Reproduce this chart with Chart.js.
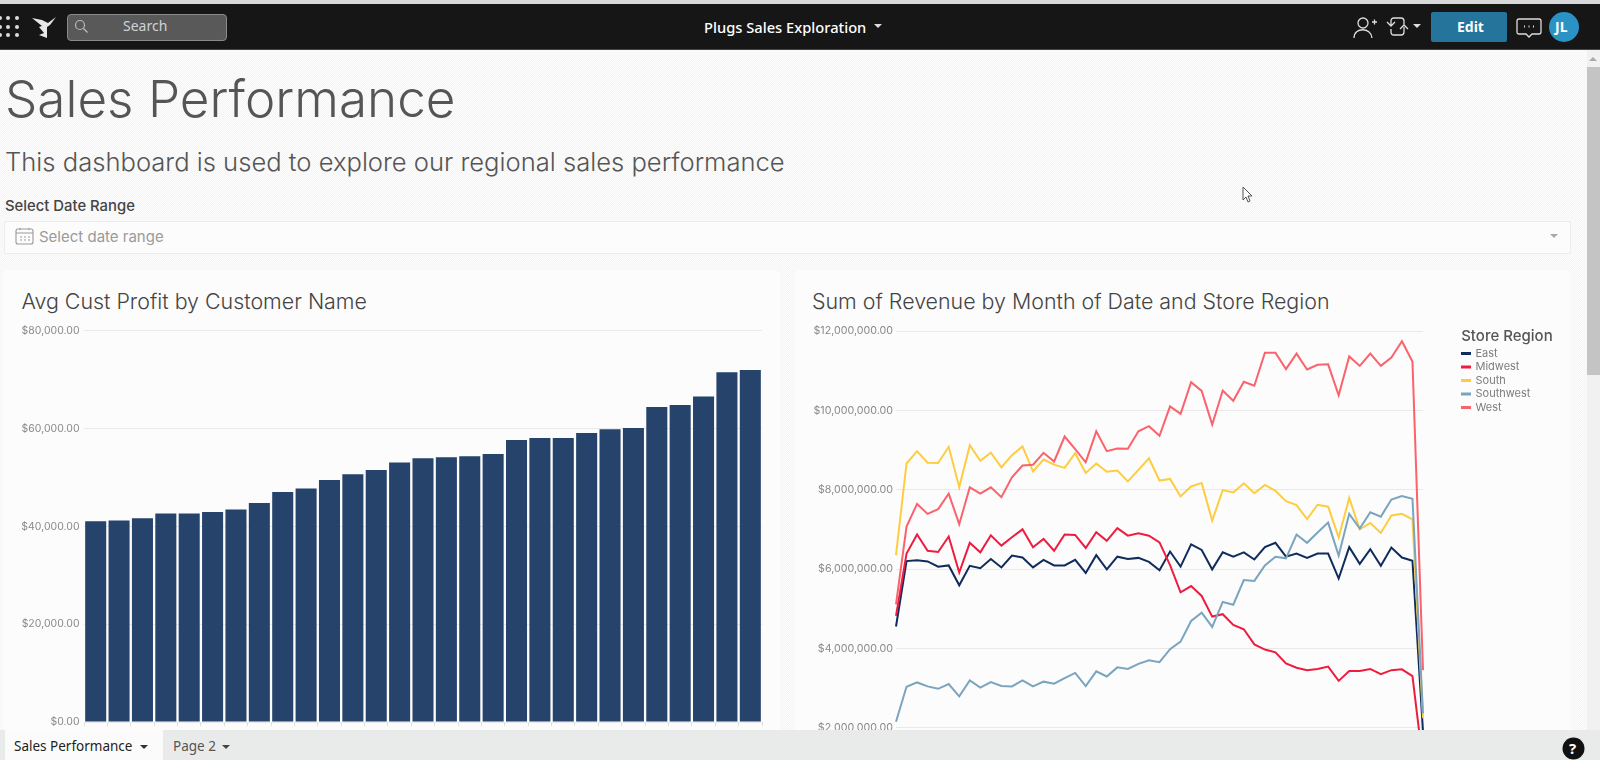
<!DOCTYPE html>
<html lang="en"><head><meta charset="utf-8"><title>Sales Performance</title>
<script src="https://cdn.jsdelivr.net/npm/chart.js@4/dist/chart.umd.min.js"></script>
<style>
html,body{margin:0;padding:0;width:1600px;height:760px;overflow:hidden;font-family:Inter,sans-serif}
body{background:repeating-conic-gradient(#f5f5f5 0 25%,#fcfcfc 0 50%) 0 0/2px 2px}
.abs,canvas{position:absolute}
.t{position:absolute;white-space:nowrap;line-height:1}
#top{position:absolute;left:0;top:0;width:1600px;height:4px;background:#d8d8d8}
#nav{position:absolute;left:0;top:4px;width:1600px;height:45px;background:#161616}
#navline{position:absolute;left:0;top:49px;width:1600px;height:1px;background:#444}
.noto{font-family:"Noto Sans",sans-serif}
#search{position:absolute;left:67px;top:14px;width:158px;height:25px;background:#595959;border:1px solid #8a8a8a;border-radius:4px}
#edit{position:absolute;left:1431px;top:12px;width:76px;height:30px;background:#24749b;border-radius:2px}
#avatar{position:absolute;left:1549px;top:12px;width:30px;height:30px;border-radius:50%;background:#2a92c4}
.card{position:absolute;background:#fcfcfc;border-radius:3px;box-shadow:0 0 1px #eee}
#filter{position:absolute;left:4px;top:221px;width:1565px;height:31px;background:#fcfcfc;border:1px solid #ececec;border-radius:2px}
#tabbar{position:absolute;left:0;top:730px;width:1600px;height:30px;background:#e9ebeb;z-index:5}
#tab1{position:absolute;left:5px;top:730px;width:158px;height:30px;background:#fbfbfb;z-index:6}
#sb{position:absolute;left:1587px;top:50px;width:13px;height:680px;background:#f1f1f1;z-index:4}
#thumb{position:absolute;left:1587px;top:67px;width:13px;height:308px;background:#c4c4c4;z-index:4}
svg{position:absolute}
</style></head><body>
<div id="top"></div><div id="nav"></div><div id="navline"></div>
<svg style="left:0;top:12px;z-index:2" width="24" height="28" fill="#ddd"><circle cx="0" cy="6" r="2"/><circle cx="8" cy="6" r="2"/><circle cx="17" cy="6" r="2"/><circle cx="0" cy="15" r="2"/><circle cx="8" cy="15" r="2"/><circle cx="17" cy="15" r="2"/><circle cx="0" cy="23" r="2"/><circle cx="8" cy="23" r="2"/><circle cx="17" cy="23" r="2"/></svg>
<svg style="left:31px;top:15px;z-index:2" width="26" height="23" fill="#e8e8e8"><path d="M1 3l10 2 6 3 8-6-6 8-3 2 0 11-8-3 5-2-5-6 3-1z"/></svg>
<div id="search"></div>
<svg style="left:73px;top:18px;z-index:2" width="16" height="17" fill="none" stroke="#bbb" stroke-width="1.2"><circle cx="7" cy="7" r="4.5"/><path d="M10.5 10.5l4 4"/></svg>
<div class="t noto" style="left:123px;top:19px;font-size:14px;color:#cfd3d8">Search</div>
<div class="t noto" style="left:704px;top:20px;font-size:14.700px;font-weight:500;color:#fff">Plugs Sales Exploration</div>
<svg style="left:874px;top:24px" width="9" height="5" fill="#ddd"><path d="M0 0h8l-4 4z"/></svg>
<svg style="left:1352px;top:15px" width="26" height="25" fill="none" stroke="#ddd" stroke-width="1.3"><circle cx="11" cy="8" r="5"/><path d="M2 23c0-11 17-11 18 0M20 7h5M22.500 4.500v5"/></svg>
<svg style="left:1385px;top:16px" width="26" height="22" fill="none" stroke="#ddd" stroke-width="1.3"><path d="M6 9V5q0-3 3-3h7q3 0 3 3v4M2 6l4 4 4-4M19 11v5q0 3-3 3H9q-3 0-3-3v-3M15 13l4-4 4 4"/></svg>
<svg style="left:1413px;top:24px" width="9" height="5" fill="#ddd"><path d="M0 0h8l-4 4z"/></svg>
<div id="edit"></div>
<div class="t noto" style="left:1457px;top:20px;font-size:14px;font-weight:700;color:#fff">Edit</div>
<svg style="left:1516px;top:17px" width="26" height="23" fill="none" stroke="#ddd" stroke-width="1.3"><path d="M3 2h20q2 0 2 2v11q0 2-2 2h-7l-3 3-3-3H3q-2 0-2-2V4q0-2 2-2z"/><path d="M8 9.500h1M12.500 9.500h1M17 9.500h1" stroke-width="2"/></svg>
<div id="avatar"></div>
<div class="t noto" style="left:1555px;top:20px;font-size:14px;font-weight:700;color:#fff">JL</div>

<div class="t" style="left:5px;top:73px;font-size:51.200px;font-weight:300;color:#555">Sales Performance</div>
<div class="t" style="left:5px;top:149px;font-size:25.600px;font-weight:300;color:#555">This dashboard is used to explore our regional sales performance</div>
<div class="t" style="left:5px;top:199px;font-size:14.850px;font-weight:500;color:#444">Select Date Range</div>
<div id="filter"></div>
<svg style="left:15px;top:227px" width="19" height="19" fill="none" stroke="#999" stroke-width="1.1"><rect x="1" y="2" width="17" height="15" rx="2"/><path d="M1 6h17M5 1v2M14 1v2"/><path d="M5 10h2M9 10h2M13 10h2M5 13h2M9 13h2M13 13h2" stroke-width="1.200"/></svg>
<div class="t" style="left:39px;top:229px;font-size:15px;color:#9a9a9a">Select date range</div>
<svg style="left:1550px;top:234px" width="9" height="5" fill="#aaa"><path d="M0 0h8l-4 4z"/></svg>
<svg style="left:1241px;top:186px" width="13" height="18" fill="#fff" stroke="#555" stroke-width="1"><path d="M2 1v13l3-3 2 5 2-1-2-5h4z"/></svg>

<div class="card" style="left:3px;top:270px;width:777px;height:470px"></div>
<div class="card" style="left:795px;top:270px;width:776px;height:470px"></div>
<div class="t" style="left:21.500px;top:291px;font-size:21.400px;font-weight:300;color:#444">Avg Cust Profit by Customer Name</div>
<div class="t" style="left:812px;top:291px;font-size:21.400px;font-weight:300;color:#444">Sum of Revenue by Month of Date and Store Region</div>
<canvas id="bar" width="780" height="420" style="left:0;top:320px"></canvas>
<canvas id="line" width="776" height="510" style="left:795px;top:315px"></canvas>

<div id="sb"></div><div id="thumb"></div>
<svg style="left:1589px;top:57px;z-index:5" width="9" height="5" fill="#aaa"><path d="M4 0l4 4H0z"/></svg>
<div id="tabbar"></div><div id="tab1"></div>
<div class="t noto" style="left:14px;top:740px;font-size:13.500px;color:#222;z-index:7">Sales Performance</div>
<svg style="left:140px;top:745px;z-index:7" width="9" height="5" fill="#333"><path d="M0 0h8l-4 4z"/></svg>
<div class="t noto" style="left:173px;top:740px;font-size:13.500px;color:#555;z-index:7">Page 2</div>
<svg style="left:222px;top:745px;z-index:7" width="9" height="5" fill="#444"><path d="M0 0h8l-4 4z"/></svg>
<svg style="left:1562px;top:737px;z-index:7" width="23" height="23"><circle cx="11.500" cy="11.500" r="11" fill="#111"/></svg>
<div class="t noto" style="left:1569px;top:741px;font-size:15px;font-weight:700;color:#fff;z-index:8">?</div>

<script>
const custProfit = [41.05,41.19,41.66,42.62,42.62,42.96,43.44,44.8,47.05,47.73,49.5,50.66,51.55,53.05,53.93,54.14,54.34,54.82,57.68,58.09,58.09,59.11,59.86,60.14,64.43,64.84,66.54,71.52,72.0];
const regions = ['East','Midwest','South','Southwest','West'];
const east = [4.55,6.20,6.22,6.19,6.06,6.09,5.59,6.08,6.02,6.25,6.04,6.34,6.29,6.04,6.23,6.09,6.09,6.23,5.90,6.35,5.99,6.31,6.25,6.28,6.18,5.97,6.44,6.06,6.62,6.48,5.99,6.42,6.31,6.42,6.24,6.55,6.66,6.31,6.39,6.28,6.39,6.39,5.76,6.55,6.13,6.50,6.08,6.54,6.29,6.21,1.9];
const midwest = [4.82,6.39,6.87,6.46,6.43,6.82,5.91,6.66,6.42,6.85,6.59,6.80,7.00,6.55,6.76,6.46,6.87,6.86,6.53,6.93,6.71,7.03,6.84,6.90,6.84,6.67,6.10,5.41,5.57,5.32,4.80,4.86,4.59,4.48,4.10,3.97,3.90,3.62,3.51,3.45,3.48,3.54,3.18,3.43,3.43,3.48,3.35,3.45,3.47,3.30,1.1];
const south = [6.35,8.66,8.97,8.68,8.67,9.08,8.06,9.12,8.73,8.93,8.56,8.87,9.09,8.46,8.76,8.63,8.55,8.92,8.42,8.66,8.45,8.48,8.21,8.50,8.79,8.23,8.27,7.83,8.08,8.17,7.22,7.99,7.93,8.16,7.91,8.12,7.97,7.71,7.61,7.26,7.62,7.57,6.80,7.79,7.00,7.16,6.91,7.35,7.39,7.25,2.24];
const southwest = [2.15,3.03,3.14,3.04,2.98,3.10,2.79,3.19,3.01,3.15,3.05,3.04,3.19,3.04,3.16,3.11,3.25,3.38,3.05,3.42,3.29,3.52,3.48,3.61,3.70,3.65,3.98,4.17,4.69,4.90,4.54,5.17,5.10,5.72,5.70,6.09,6.31,6.27,6.87,6.66,6.92,7.17,6.34,7.39,7.02,7.43,7.32,7.75,7.84,7.77,2.36];
const west = [5.11,7.07,7.64,7.39,7.51,7.90,7.13,8.06,7.90,8.06,7.81,8.31,8.61,8.63,8.93,8.71,9.34,9.02,8.69,9.47,8.97,9.04,9.03,9.47,9.60,9.36,10.10,9.91,10.71,10.49,9.64,10.50,10.24,10.72,10.62,11.45,11.45,11.04,11.43,11.03,11.15,11.16,10.38,11.36,11.12,11.43,11.12,11.33,11.74,11.23,3.45];
const seriesValues = [east, midwest, south, southwest, west];
const seriesColors = ['#0f2c5c','#ee1c3e','#fdcd41','#7ba4bf','#fa626c'];
const barColor = '#25436b';
const gridColor = '#e9e9e9', tickColor = '#8a8a8a';

Chart.defaults.font.family = 'Inter, sans-serif';
Chart.defaults.animation = false;
const money = v => '$' + Number(v).toLocaleString('en-US',{minimumFractionDigits:2,maximumFractionDigits:2});

new Chart(document.getElementById('bar'), {
  type:'bar',
  data:{labels:custProfit.map((_,i)=>i+1),
        datasets:[{label:'Avg Cust Profit',data:custProfit.map(v=>v*1000),backgroundColor:barColor,barPercentage:0.9,categoryPercentage:1}]},
  options:{responsive:false,devicePixelRatio:1,
    layout:{padding:{top:10.7,right:18,bottom:0,left:0}},
    plugins:{legend:{display:false},tooltip:{enabled:false}},
    scales:{
      x:{grid:{drawOnChartArea:false,tickLength:4,color:'#dedede'},border:{display:false},
         ticks:{callback:()=>'',autoSkip:false,maxRotation:0,padding:0,font:{size:1}},
         afterFit(s){s.height=18;}},
      y:{min:0,max:80000,grid:{color:gridColor,drawTicks:false},border:{display:false},
         ticks:{stepSize:20000,padding:4.5,color:tickColor,font:{size:10.5},callback:money},
         afterFit(s){s.width=84;}}
    }}
});

const moveLegend = {id:'moveLegend',afterLayout(c){
  const l=c.legend; const h=l.bottom-l.top;
  l.left=664.5; l.right=776; l.width=93.2; l.top=12.5; l.bottom=12.5+h;
}};
new Chart(document.getElementById('line'), {
  type:'line',
  data:{labels:east.map((_,i)=>i+1),
        datasets:regions.map((r,i)=>({label:r,data:seriesValues[i].map(v=>v*1e6),borderColor:seriesColors[i],backgroundColor:seriesColors[i],
          borderWidth:2,pointRadius:0,tension:0,order:5-i}))},
  options:{responsive:false,devicePixelRatio:1,
    layout:{padding:{top:16,right:78,bottom:0,left:0}},
    plugins:{tooltip:{enabled:false},
      legend:{position:'right',align:'start',maxWidth:70,
        title:{display:true,text:'Store Region',color:'#555',position:'end',font:{size:15,weight:'500'},padding:{top:1,bottom:-1}},
        labels:{boxWidth:8,boxHeight:1,padding:2.5,color:'#7d7d7d',font:{size:11},sort:(a,b)=>a.datasetIndex-b.datasetIndex}}},
    scales:{
      x:{grid:{display:false},border:{display:false},ticks:{display:false},afterFit(s){s.height=18;}},
      y:{min:0,max:12000000,grid:{color:gridColor,drawTicks:false},border:{display:false},
         ticks:{stepSize:2000000,padding:3,color:tickColor,font:{size:10.7},callback:money},
         afterFit(s){s.width=101;}}
    }},
  plugins:[moveLegend]
});
</script>
</body></html>
